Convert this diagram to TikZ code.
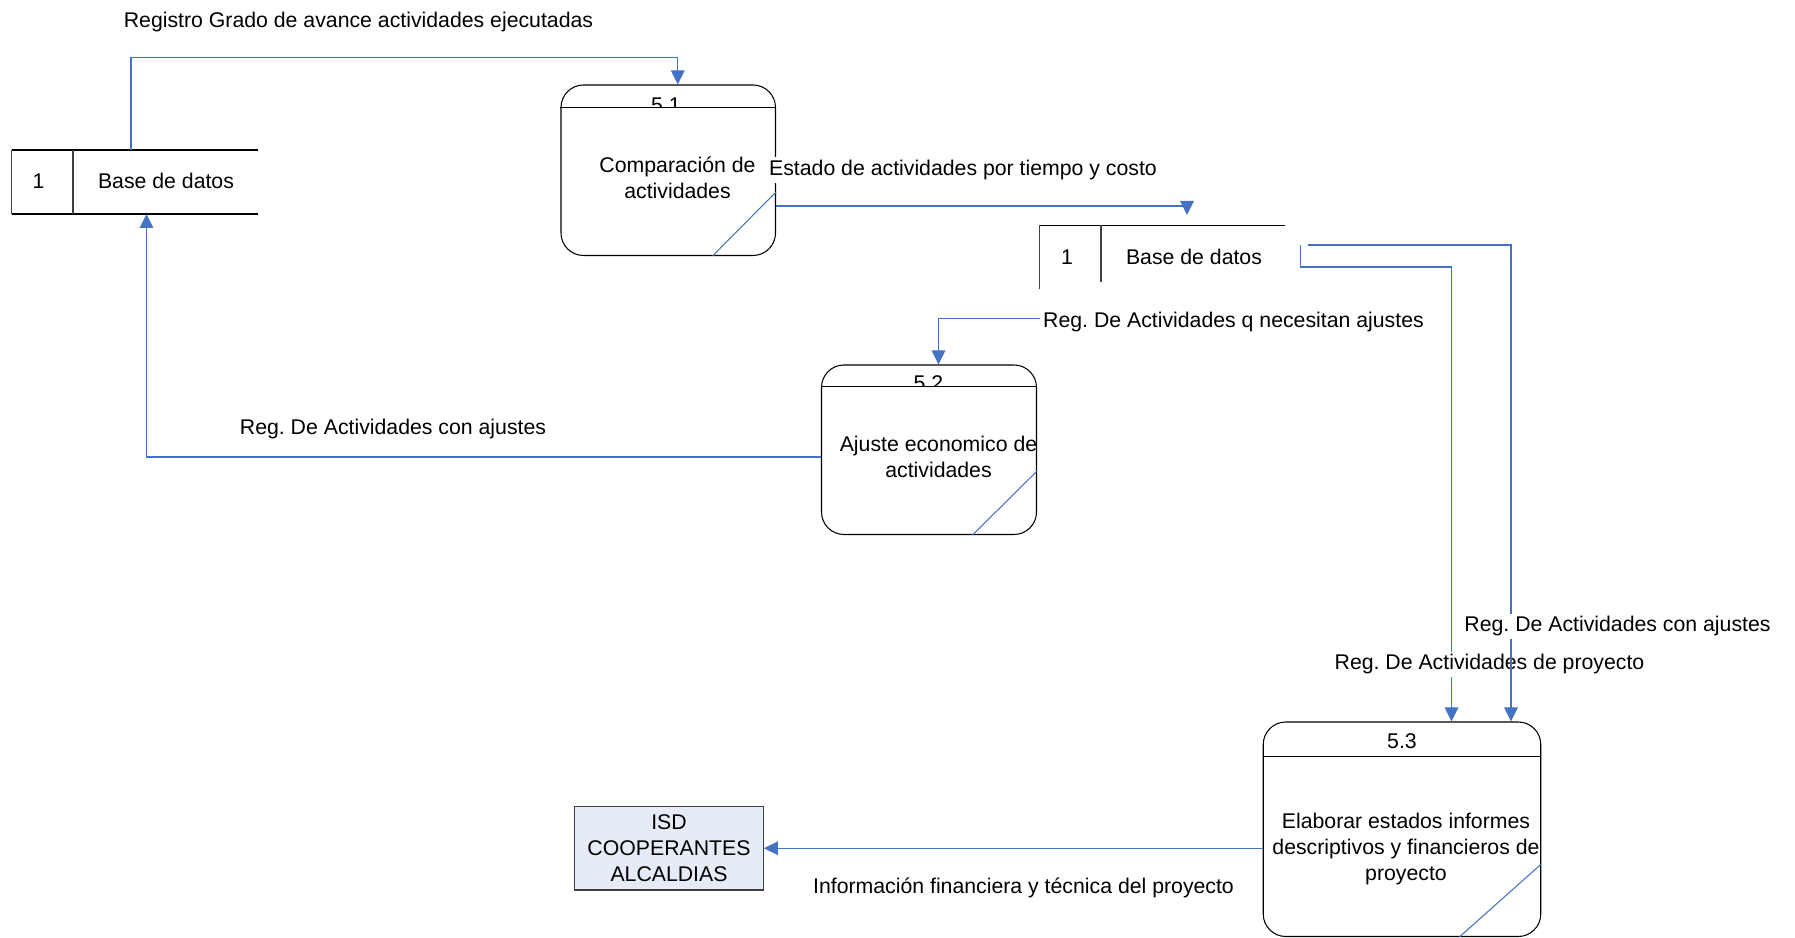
\documentclass[tikz,border=0pt]{standalone}
\usepackage{fontspec}
\setmainfont{Liberation Sans}
\usetikzlibrary{arrows.meta}
\definecolor{flowblue}{RGB}{68,114,196}
\definecolor{isdfill}{RGB}{230,236,247}
\definecolor{isdline}{RGB}{64,64,64}
\frenchspacing

\begin{document}
\begin{tikzpicture}[>={Triangle[length=0.28cm,width=0.27cm]}, font=\fontsize{12.1}{14.7}\selectfont]
    \tikzset{proc/.style={draw, line width=0.6pt, rounded corners=0.45cm},
             store/.style={minimum height=1.28cm, outer sep=0pt},
             flow/.style={->, flowblue, line width=0.6pt},
             lbl/.style={fill=white, inner sep=1.5pt},
             storeline/.style={line width=0.9pt},
             storeside/.style={line width=0.6pt, black!75}}

    \useasboundingbox (0,0) rectangle (35.9,18.76);

    % data stores
    \node[store, minimum width=4.92cm] (ds1) at (2.69,15.12) {};
    \draw[storeline] (ds1.north west) -- (ds1.north east) (ds1.south west) -- (ds1.south east);
    \draw[storeside] (ds1.north west) -- (ds1.south west) ([xshift=1.23cm]ds1.north west) -- ([xshift=1.23cm]ds1.south west);
    \node at (0.77,15.14) {1};
    \node at (3.32,15.14) {Base de datos};

    \node[store, minimum width=4.9cm] (ds2) at (23.24,13.61) {};
    \draw[storeline] (ds2.north west) -- (ds2.north east);
    \draw[storeside] (ds2.north west) -- (ds2.south west) ([xshift=1.23cm]ds2.north west) -- ++(0,-1.13);
    \node at (21.34,13.62) {1};
    \node at (23.88,13.62) {Base de datos};

    % processes
    \node[proc, minimum width=4.29cm, minimum height=3.41cm] (p51) at (13.365,15.355) {};
    \draw[line width=0.6pt] ([yshift=-0.46cm]p51.north west) -- ([yshift=-0.46cm]p51.north east);
    \draw[flowblue, line width=0.6pt] ([xshift=-1.27cm]p51.south east) -- ([yshift=1.28cm]p51.south east);
    \begin{scope}
        \clip ([yshift=-0.46cm]p51.north west) rectangle (p51.north east);
        \node at (13.32,16.66) {5.1};
    \end{scope}
    \node[align=center] at (13.55,15.2) {Comparación de\\actividades};

    \node[proc, minimum width=4.3cm, minimum height=3.39cm] (p52) at (18.58,9.765) {};
    \draw[line width=0.6pt] ([yshift=-0.45cm]p52.north west) -- ([yshift=-0.45cm]p52.north east);
    \draw[flowblue, line width=0.6pt] ([xshift=-1.29cm]p52.south east) -- ([yshift=1.28cm]p52.south east);
    \begin{scope}
        \clip ([yshift=-0.45cm]p52.north west) rectangle (p52.north east);
        \node at (18.57,11.1) {5.2};
    \end{scope}
    \node[align=center] at (18.77,9.62) {Ajuste economico de\\actividades};

    \node[proc, minimum width=5.55cm, minimum height=4.29cm] (p53) at (28.04,2.175) {};
    \draw[line width=0.6pt] ([yshift=-0.71cm]p53.north west) -- ([yshift=-0.71cm]p53.north east);
    \draw[flowblue, line width=0.6pt] ([xshift=-1.64cm]p53.south east) -- ([yshift=1.46cm]p53.south east);
    \node at (28.04,3.93) {5.3};
    \node[align=center] at (28.12,1.78) {Elaborar estados informes\\descriptivos y financieros de\\proyecto};

    \node[draw=isdline, fill=isdfill, line width=0.7pt, minimum width=3.77cm, minimum height=1.67cm, align=center] (isd) at (13.38,1.795) {ISD\\COOPERANTES\\ALCALDIAS};

    % flows
    \draw[flow] ([xshift=-0.07cm]ds1.north) -- ++(0,1.85) -| ([xshift=0.19cm]p51.north);
    \node[lbl] at (7.17,18.32) {Registro Grado de avance actividades ejecutadas};

    \draw[flow] ([yshift=-0.715cm]p51.east) -| ([xshift=0.5cm,yshift=0.21cm]ds2.north);
    \node[lbl] at (19.26,15.36) {Estado de actividades por tiempo y costo};

    \node[lbl] (lblq) at (24.67,12.31) {Reg. De Actividades q necesitan ajustes};
    \draw[flow] ([yshift=0.08cm]lblq.west) -| ([xshift=0.19cm]p52.north);

    \draw[flow] ([yshift=-0.145cm]p52.west) -| ([xshift=0.24cm]ds1.south);
    \node[lbl] at (7.86,10.18) {Reg. De Actividades con ajustes};

    \draw[flow] ([xshift=0.32cm,yshift=0.25cm]ds2.east) -- ++(0,-0.44) -| ([xshift=0.99cm]p53.north);
    \node[lbl] at (29.79,5.47) {Reg. De Actividades de proyecto};
    \draw[flow] ([xshift=0.46cm,yshift=0.25cm]ds2.east) -| ([xshift=2.18cm]p53.north);
    \node[lbl] at (32.35,6.23) {Reg. De Actividades con ajustes};

    \draw[flow] (p53.west |- isd.east) -- (isd.east);
    \node[lbl] at (20.47,1.0) {Información financiera y técnica del proyecto};
\end{tikzpicture}
\end{document}
